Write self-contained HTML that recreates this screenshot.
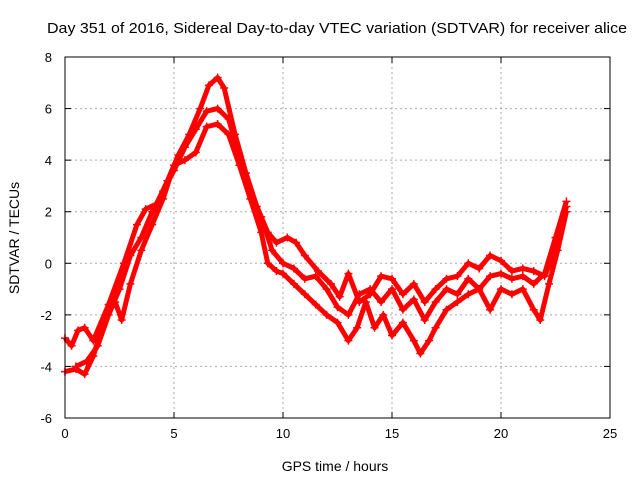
<!DOCTYPE html>
<html><head><meta charset="utf-8"><style>
html,body{margin:0;padding:0;background:#fff;overflow:hidden;}
svg{display:block;font-family:"Liberation Sans",sans-serif;}
</style></head><body>
<svg id="chart" width="640" height="480">
<text x="47" y="33" font-size="15" textLength="580" lengthAdjust="spacingAndGlyphs">Day 351 of 2016, Sidereal Day-to-day VTEC variation (SDTVAR) for receiver alice</text>
<text x="335" y="471" font-size="14" text-anchor="middle">GPS time / hours</text>
<text transform="translate(19,238) rotate(-90)" font-size="14" text-anchor="middle">SDTVAR / TECUs</text>
<g id="grid"></g><g id="ticks"></g><g id="series"></g>
<rect x="65" y="57" width="545" height="361" fill="none" stroke="#000"/>
</svg>
<script>
const xTicks=[0,5,10,15,20,25];
const yTicks=[-6,-4,-2,0,2,4,6,8];
const trackA=[[0,-2.9],[0.3,-3.2],[0.6,-2.6],[0.9,-2.5],[1.3,-3.0],[2,-1.6],[2.7,0],[3.3,1.5],[3.7,2.1],[4.2,2.3],[4.7,3.2],[5.2,4.2],[5.7,5.0],[6.2,6.0],[6.6,6.9],[7,7.2],[7.3,6.8],[7.8,5.0],[8.3,3.5],[8.8,2.2],[9.3,1.2],[9.7,0.8],[10.2,1.0],[10.6,0.8],[11,0.3],[11.6,-0.3],[12.2,-0.8],[12.6,-1.3],[13,-0.4],[13.5,-1.5],[14,-1.2],[14.5,-0.5],[15,-0.6],[15.5,-1.2],[16,-0.8],[16.5,-1.5],[17,-1.0],[17.5,-0.6],[18,-0.5],[18.5,0],[19,-0.2],[19.5,0.3],[20,0.1],[20.5,-0.3],[21,-0.2],[21.5,-0.3],[22,-0.5],[22.5,0.5],[23,2.2]];
const trackB=[[0,-4.2],[0.5,-4.1],[0.9,-4.3],[1.3,-3.6],[1.8,-2.2],[2.3,-1.5],[2.6,-2.2],[3,-0.8],[3.5,0.5],[4,1.5],[4.5,2.5],[5,3.8],[5.5,4.0],[6,4.3],[6.5,5.3],[7,5.4],[7.5,5.0],[8,3.8],[8.5,2.5],[9,1.2],[9.3,0.0],[9.7,-0.3],[10,-0.4],[10.5,-0.8],[11,-1.2],[11.5,-1.6],[12,-2.0],[12.5,-2.3],[13,-3.0],[13.4,-2.5],[13.8,-1.5],[14.2,-2.5],[14.6,-2.0],[15,-2.8],[15.5,-2.3],[16,-3.0],[16.3,-3.5],[16.7,-3.0],[17,-2.5],[17.5,-1.8],[18,-1.5],[18.5,-1.2],[19,-1.0],[19.5,-1.8],[20,-1.0],[20.5,-1.2],[21,-1.0],[21.5,-1.8],[21.8,-2.2],[22.2,-0.8],[22.6,0.5],[23,2.0]];
const trackC=[[0.5,-4.0],[1,-3.8],[1.5,-3.2],[2,-2.0],[2.5,-1.0],[3,0.3],[3.5,1.0],[4,2.0],[4.5,2.8],[5,3.6],[5.5,4.5],[6,5.2],[6.5,5.9],[7,6.0],[7.5,5.6],[8,4.2],[8.5,2.8],[9,1.8],[9.5,0.5],[10,0.0],[10.5,-0.2],[11,-0.6],[11.5,-0.5],[12,-1.0],[12.5,-1.7],[13,-2.0],[13.5,-1.2],[14,-1.0],[14.5,-1.5],[15,-1.0],[15.5,-1.8],[16,-1.4],[16.5,-2.2],[17,-1.5],[17.5,-1.0],[18,-1.2],[18.5,-0.6],[19,-1.0],[19.5,-0.5],[20,-0.4],[20.5,-0.6],[21,-0.5],[21.5,-0.8],[22,-0.4],[22.5,1.0],[23,2.4]];
const NS='http://www.w3.org/2000/svg';
const X=v=>65+v*(545/25), Y=v=>418-(v+6)*(361/14);
const grid=document.getElementById('grid'),ticks=document.getElementById('ticks'),ser=document.getElementById('series');
function mk(tag,attrs,parent){const e=document.createElementNS(NS,tag);for(const k in attrs)e.setAttribute(k,attrs[k]);parent.appendChild(e);return e;}
xTicks.forEach(t=>{const x=X(t);
 if(t>0&&t<25){const g=mk('line',{x1:x,x2:x,y1:57,y2:418,stroke:'#aaa','stroke-dasharray':'2,3'},grid);
 
 }
 mk('line',{x1:x,x2:x,y1:418,y2:412,stroke:'#000'},ticks);mk('line',{x1:x,x2:x,y1:57,y2:63,stroke:'#000'},ticks);
 const l=mk('text',{x:x,y:438,'font-size':13,'text-anchor':'middle'},ticks);l.textContent=t;
 
 });
yTicks.forEach(t=>{const y=Y(t);
 if(t>-6&&t<8){const g=mk('line',{x1:65,x2:610,y1:y,y2:y,stroke:'#aaa','stroke-dasharray':'2,3'},grid);
 
 }
 mk('line',{x1:65,x2:71,y1:y,y2:y,stroke:'#000'},ticks);mk('line',{x1:604,x2:610,y1:y,y2:y,stroke:'#000'},ticks);
 const l=mk('text',{x:52,y:y+5,'font-size':13,'text-anchor':'end'},ticks);l.textContent=t;
 
 });
[trackA,trackB,trackC].forEach((tr,i)=>{
 const p=mk('polyline',{points:tr.map(d=>X(d[0])+','+Y(d[1])).join(' '),fill:'none',stroke:'#f00','stroke-width':5,'stroke-linejoin':'round'},ser);
 
 
 tr.forEach(d=>{const x=X(d[0]),y=Y(d[1]);
  const m=mk('path',{d:`M${x-4},${y}h8M${x},${y-4}v8`,stroke:'#f00','stroke-width':1.5},ser);
  
  });
});
</script>
</body></html>
